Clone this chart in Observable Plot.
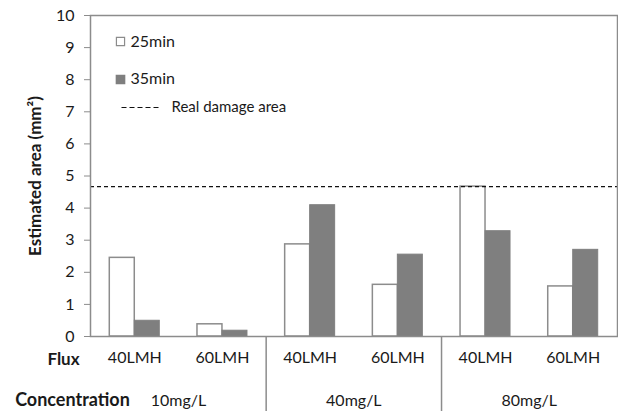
<!DOCTYPE html>
<html>
<head>
<meta charset="utf-8">
<script src="https://cdn.jsdelivr.net/npm/d3@7"></script>
<script src="https://cdn.jsdelivr.net/npm/@observablehq/plot@0.6"></script>
<style>
  html, body { margin: 0; padding: 0; background: #fff; }
  #chart { width: 618px; height: 411px; }
</style>
</head>
<body>
<div id="chart"></div>
<script>
// ---- data ----
const concentrations = ["10mg/L", "10mg/L", "40mg/L", "40mg/L", "80mg/L", "80mg/L"];
const fluxes = ["40LMH", "60LMH", "40LMH", "60LMH", "40LMH", "60LMH"];
const area25min = [2.45, 0.38, 2.87, 1.61, 4.67, 1.56];
const area35min = [0.49, 0.18, 4.09, 2.55, 3.28, 2.70];
const realDamageArea = 4.67;
const yTicks = [0, 1, 2, 3, 4, 5, 6, 7, 8, 9, 10];
const concentrationLabels = ["10mg/L", "40mg/L", "80mg/L"];
const seriesNames = ["25min", "35min"];

// ---- tables built from the arrays ----
const keys = concentrations.map((c, i) => c + "|" + fluxes[i]);
const rows25 = keys.map((k, i) => ({key: k, value: area25min[i]}));
const rows35 = keys.map((k, i) => ({key: k, value: area35min[i]}));
// each concentration label sits at the boundary before its second flux group
const concRows = concentrationLabels.map(c => ({label: c, key: keys[concentrations.lastIndexOf(c)]}));
const separators = concentrationLabels.slice(1).map(c => ({key: keys[concentrations.indexOf(c)]}));

const gray = "#7f7f7f";
const line = "#8c8c8c";
const font = "Lato, 'DejaVu Sans', sans-serif";
const halfStep = 44;

const dashSymbol = {
  draw(ctx) {
    for (let i = 0; i < 5; i++) { ctx.moveTo(-19 + i * 8, 0); ctx.lineTo(-14 + i * 8, 0); }
  }
};

const chart = Plot.plot({
  width: 618,
  height: 411,
  marginLeft: 90,
  marginRight: 1,
  marginTop: 15,
  marginBottom: 75,
  style: {fontFamily: font, fontSize: "16px", color: "#1a1a1a", background: "#fff"},
  x: {domain: keys, paddingInner: 0.43, paddingOuter: 0.22, round: false},
  y: {domain: [0, 10]},
  marks: [
    Plot.barY(rows25, {x: "key", y: "value", fill: "white", stroke: line, strokeWidth: 1.5, insetRight: 25}),
    Plot.barY(rows35, {x: "key", y: "value", fill: gray, stroke: gray, strokeWidth: 1, insetLeft: 25}),
    Plot.ruleY([realDamageArea], {stroke: "#111", strokeWidth: 1.2, strokeDasharray: "4,3"}),
    Plot.frame({stroke: line, strokeWidth: 1.5}),
    Plot.axisY({ticks: yTicks, tickSize: 6, tickPadding: 10, label: null, stroke: line, fontSize: 16}),
    Plot.axisX({tickSize: 0, tickPadding: 15, label: null, tickFormat: k => k.split("|")[1], fontSize: 16}),
    Plot.ruleX(separators, {x: "key", dx: -halfStep, y1: 0, y2: 0, insetBottom: -75, stroke: line, strokeWidth: 1.5}),
    Plot.text(concRows, {x: "key", text: "label", y: 0, dx: -halfStep, dy: 64, fontSize: 16, lineAnchor: "middle"}),
    Plot.text(["Flux"], {frameAnchor: "bottom-left", dx: -27, dy: 23, textAnchor: "middle", lineAnchor: "middle", fontWeight: "bold", fontSize: 17}),
    Plot.text(["Concentration"], {frameAnchor: "bottom-left", dx: -18, dy: 64, textAnchor: "middle", lineAnchor: "middle", fontWeight: "bold", fontSize: 18}),
    Plot.text(["Estimated area (mm²)"], {frameAnchor: "left", dx: -55, rotate: -90, textAnchor: "middle", lineAnchor: "middle", fontWeight: "bold", fontSize: 17}),
    // legend
    Plot.dot([seriesNames[0]], {frameAnchor: "top-left", dx: 30, dy: 26, symbol: "square", r: 4.6, fill: "white", stroke: line, strokeWidth: 1.2}),
    Plot.dot([seriesNames[1]], {frameAnchor: "top-left", dx: 30, dy: 64, symbol: "square", r: 4.6, fill: gray, stroke: gray}),
    Plot.dot(["Real damage area"], {frameAnchor: "top-left", dx: 50, dy: 92, symbol: dashSymbol, fill: "none", stroke: "#111", strokeWidth: 1.2}),
    Plot.text([seriesNames[0]], {frameAnchor: "top-left", dx: 40, dy: 26, textAnchor: "start", lineAnchor: "middle", fontSize: 16}),
    Plot.text([seriesNames[1]], {frameAnchor: "top-left", dx: 40, dy: 63, textAnchor: "start", lineAnchor: "middle", fontSize: 16}),
    Plot.text(["Real damage area"], {frameAnchor: "top-left", dx: 81, dy: 92, textAnchor: "start", lineAnchor: "middle", fontSize: 15})
  ]
});
document.getElementById("chart").appendChild(chart);
</script>
</body>
</html>
